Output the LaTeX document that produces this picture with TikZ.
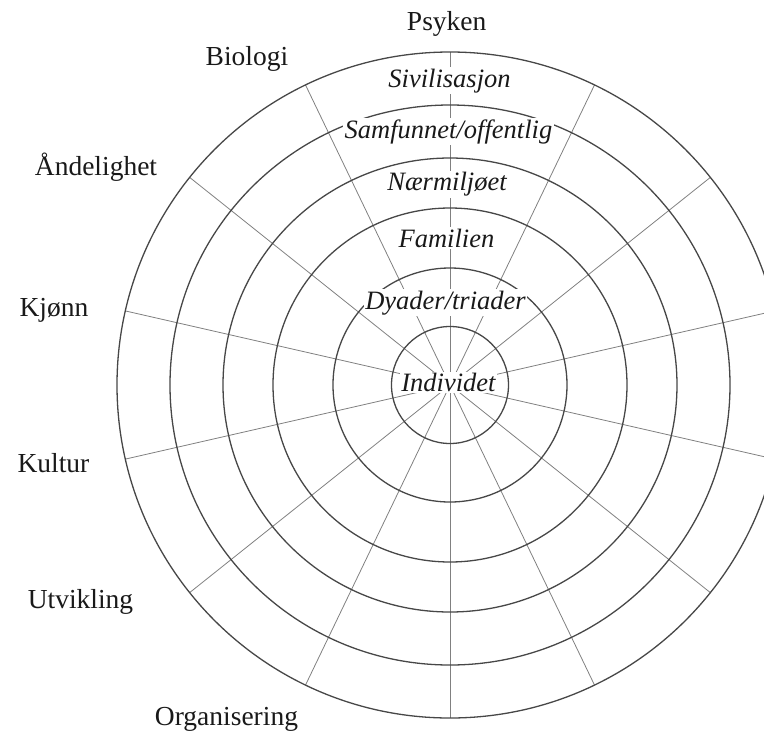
\documentclass[tikz,border=0pt]{standalone}
\usepackage{fontspec}
\setmainfont{Liberation Serif}
\begin{document}
\begin{tikzpicture}[x=1pt,y=-1pt,
  ring/.style={draw=black!72,line width=1.3pt},
  spoke/.style={draw=black!50,line width=0.8pt},
  ringlbl/.style={fill=white,inner sep=1.5pt,anchor=base,text=black!90,
    font=\fontsize{26.5}{30}\selectfont\itshape},
  sidelbl/.style={inner sep=0pt,anchor=base,text=black!90,
    font=\fontsize{27.5}{32}\selectfont}]
\useasboundingbox (0,0) rectangle (764,732);
\clip (0,0) rectangle (764,732);
\coordinate (c) at (450,385);
% spokes: fourteen equal sectors, one pointing straight up
\foreach \k in {0,...,13}
  \draw[spoke] (c) -- ++({90+\k*360/14}:333);
% concentric rings
\foreach \r in {58.5,117,177,227,280,333}
  \draw[ring] (c) circle[radius=\r];
% ring names (white boxes break the lines beneath)
\node[ringlbl] (siv) at (449.5,87) {Sivilisasjon};
\node[ringlbl] (sam) at (448.5,138) {Samfunnet/offentlig};
\node[ringlbl] (naer) at (447,190.7) {Nærmiljøet};
\node[ringlbl] (fam) at (446.5,247) {Familien};
\node[ringlbl] (dya) at (445.5,309) {Dyader/triader};
\node[ringlbl] (ind) at (448.5,391.7) {Individet};
% sector names
\node[sidelbl] (psy) at (446.7,30) {Psyken};
\node[sidelbl] (bio) at (247,65.7) {Biologi};
\node[sidelbl] (and) at (96,175) {Åndelighet};
\node[sidelbl] (kjo) at (54,316) {Kjønn};
\node[sidelbl] (kul) at (53.5,472) {Kultur};
\node[sidelbl] (utv) at (80.5,608) {Utvikling};
\node[sidelbl] (org) at (226.5,725) {Organisering};
\end{tikzpicture}
\end{document}
